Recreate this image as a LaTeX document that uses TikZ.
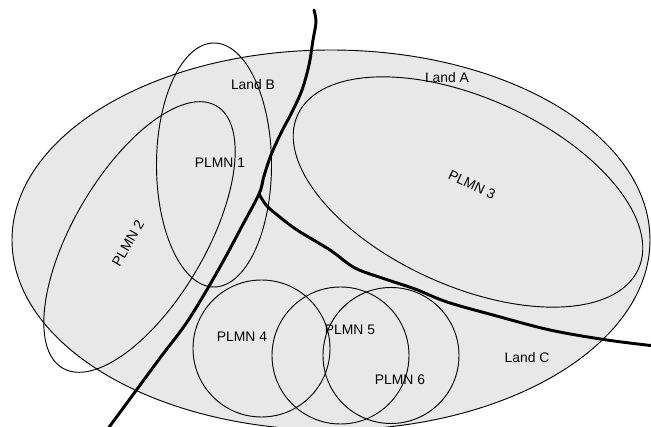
\documentclass[tikz,border=0pt]{standalone}
\usepackage{fontspec}
\setmainfont{Liberation Sans}
\definecolor{landgray}{RGB}{232,232,232}
\tikzset{
  plmn/.style={line width=0.7pt},
  borderline/.style={line width=2.2pt, line cap=round, line join=round},
  lbl/.style={font=\fontsize{10.4}{12}\selectfont, inner sep=0pt}
}

\begin{document}
\begin{tikzpicture}[x=0.75pt,y=-0.75pt]
\useasboundingbox (0,0) rectangle (651,427);
% the whole land area
\draw[plmn,fill=landgray] (331,240) ellipse (319 and 190);
% networks
\draw[plmn] (214,165) ellipse (57.5 and 122);
\draw[plmn,rotate around={59.6:(139.5,237)}] (139.5,237) ellipse (152 and 66);
\draw[plmn,rotate around={-24.3:(468,192)}] (468,192) ellipse (187 and 94);
\draw[plmn] (261.5,348.5) circle (68.5);
\draw[plmn] (340.5,355.5) circle (68.5);
\draw[plmn] (391,355.5) circle (68);
% borders between the lands
\coordinate (junction) at (259,194);
\draw[borderline] plot[smooth,tension=0.55] coordinates {(314,10) (316,22) (313,40) (309,65)
   (302,90) (292,112) (281,133) (271,155) (264,176) (259,194) (241,228) (225,258) (205,293)
   (185,325) (160,358) (135,392) (107,430)};
\draw[borderline] plot[smooth,tension=0.55] coordinates {(junction) (266,205) (276,214) (297,230)
   (330,250) (355,268) (385,279) (415,289) (447,302) (493,315) (550,330) (607,340) (655,346)};
% labels
\node[lbl] (landa) at (447,78) {Land A};
\node[lbl] (landb) at (253,85) {Land B};
\node[lbl] (landc) at (527,358) {Land C};
\node[lbl] (plmn1) at (220,163) {PLMN 1};
\node[lbl,rotate=60] (plmn2) at (128,243) {PLMN 2};
\node[lbl,rotate=-25] (plmn3) at (472,185) {PLMN 3};
\node[lbl] (plmn4) at (242,337) {PLMN 4};
\node[lbl] (plmn5) at (350,330) {PLMN 5};
\node[lbl] (plmn6) at (400,380) {PLMN 6};
\end{tikzpicture}
\end{document}
